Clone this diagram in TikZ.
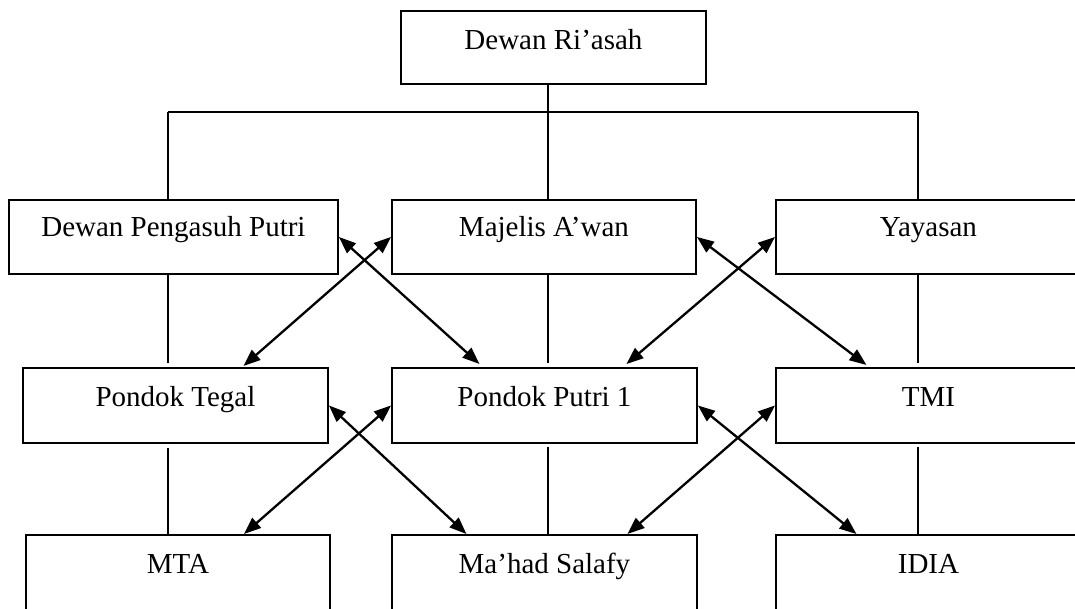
\documentclass[tikz,border=0pt]{standalone}
\usepackage{fontspec}
\setmainfont{Liberation Serif}
\usetikzlibrary{arrows.meta}
\begin{document}
\begin{tikzpicture}[x=1pt,y=-1pt,
  unitbox/.style={draw, line width=1.9pt, rectangle, inner sep=0pt,
    anchor=north west, font=\fontsize{29}{34}\selectfont},
  wire/.style={line width=1.4pt},
  link/.style={line width=2.3pt,
    {Triangle[length=17pt,width=13pt]}-{Triangle[length=17pt,width=13pt]}}]
  \useasboundingbox (0,0) rectangle (1075,609);
  \clip (0,0) rectangle (1075,609);

  % top of the organisation
  \node[unitbox, minimum width=305pt, text height=39pt, text depth=34pt]
    (ria) at (400,10) {Dewan Ri’asah};

  % first level
  \node[unitbox, minimum width=329pt, text height=37pt, text depth=37pt]
    (dpp) at (8,199) {Dewan Pengasuh Putri};
  \node[unitbox, minimum width=304pt, text height=37pt, text depth=37pt]
    (maj) at (391,199) {Majelis A’wan};
  \node[unitbox, minimum width=305pt, text height=37pt, text depth=37pt]
    (yay) at (775,199) {Yayasan};

  % second level
  \node[unitbox, minimum width=305pt, text height=39pt, text depth=36pt]
    (teg) at (22,367) {Pondok Tegal};
  \node[unitbox, minimum width=305pt, text height=39pt, text depth=36pt]
    (pp1) at (391,367) {Pondok Putri 1};
  \node[unitbox, minimum width=305pt, text height=39pt, text depth=36pt]
    (tmi) at (775,367) {TMI};

  % third level
  \node[unitbox, minimum width=304pt, text height=39pt, text depth=60pt]
    (mta) at (25,534) {MTA};
  \node[unitbox, minimum width=305pt, text height=39pt, text depth=60pt]
    (mhs) at (391,534) {Ma’had Salafy};
  \node[unitbox, minimum width=305pt, text height=39pt, text depth=60pt]
    (idia) at (775,534) {IDIA};

  % rails of the tree
  \coordinate (railL) at (168,112);
  \coordinate (railM) at (548,112);
  \coordinate (railR) at (918,112);

  \draw[wire] (ria.south -| railM) -- (maj.north -| railM);
  \draw[wire] (railL) -- (railR);
  \draw[wire] (railL) -- (dpp.north -| railL);
  \draw[wire] (railR) -- (yay.north -| railR);

  \draw[wire, shorten >=4pt] (dpp.south -| railL) -- (teg.north -| railL);
  \draw[wire, shorten >=4pt] (maj.south -| railM) -- (pp1.north -| railM);
  \draw[wire, shorten >=4pt] (yay.south -| railR) -- (tmi.north -| railR);

  \draw[wire, shorten <=4pt] (teg.south -| railL) -- (mta.north -| railL);
  \draw[wire, shorten <=3pt] (pp1.south -| railM) -- (mhs.north -| railM);
  \draw[wire, shorten <=3pt] (tmi.south -| railR) -- (idia.north -| railR);

  % cross relations between first and second level
  \draw[link] (dpp.east) -- ([xshift=-65pt,yshift=3pt]pp1.north);
  \draw[link] (maj.west) -- ([xshift=68pt,yshift=1pt]teg.north);
  \draw[link] (maj.east) -- ([xshift=-62pt,yshift=2pt]tmi.north);
  \draw[link] (yay.west) -- ([xshift=82pt,yshift=3pt]pp1.north);

  % cross relations between second and third level
  \draw[link] (teg.east) -- ([xshift=-78pt]mhs.north);
  \draw[link] (pp1.west) -- ([xshift=66pt]mta.north);
  \draw[link] (pp1.east) -- ([xshift=-72pt]idia.north);
  \draw[link] (tmi.west) -- ([xshift=83pt]mhs.north);
\end{tikzpicture}
\end{document}
